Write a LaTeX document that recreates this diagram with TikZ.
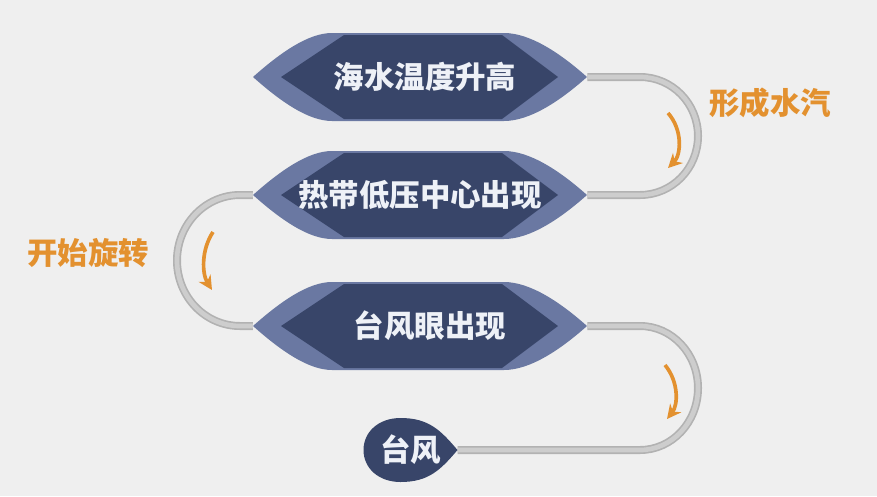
\documentclass[tikz,border=0pt]{standalone}
\usepackage{fontspec}
\setmainfont{Noto Sans CJK SC}
\usetikzlibrary{math}
\usetikzlibrary{arrows.meta}
\usetikzlibrary{backgrounds}
\definecolor{paper}{HTML}{EFEFEF}
\definecolor{lensrim}{HTML}{6A78A2}
\definecolor{lensnavy}{HTML}{384569}
\definecolor{pipeedge}{HTML}{B2B2B2}
\definecolor{pipecore}{HTML}{CDCDCD}
\definecolor{tangerine}{HTML}{E3912F}
\definecolor{snow}{HTML}{EEF1F7}

\tikzset{
  lens/.pic={
    \fill[lensrim]
      (-167,0) .. controls (-140,-24) and (-112,-44) .. (-88,-44) -- (84,-44)
      .. controls (110,-44) and (140,-24) .. (167,0)
      .. controls (140,24) and (110,44) .. (84,44) -- (-88,44)
      .. controls (-112,44) and (-140,24) .. (-167,0) -- cycle;
    \fill[lensnavy]
      (-139,0) -- (-76,-42) -- (82,-42) -- (138,0) -- (82,42) -- (-76,42) -- cycle;
  },
  dropshape/.pic={
    \fill[lensnavy]
      (47,0) .. controls (30,-20) and (18,-32) .. (-10,-32)
      .. controls (-32,-32) and (-47,-18) .. (-47,0)
      .. controls (-47,18) and (-32,32) .. (-10,32)
      .. controls (18,32) and (30,20) .. (47,0) -- cycle;
  },
  stage/.style={minimum width=10.02cm, minimum height=2.64cm, inner sep=0pt,
    text=snow, font=\fontsize{26pt}{30pt}\selectfont\bfseries},
  drop/.style={minimum width=2.82cm, minimum height=1.92cm, inner sep=0pt,
    text=snow, font=\fontsize{26pt}{30pt}\selectfont\bfseries},
  pipe/.style={draw=pipeedge, line width=0.24cm,
    postaction={draw=pipecore, line width=0.14cm}},
  turn/.style={draw=tangerine, line width=0.11cm,
    -{Stealth[length=0.42cm, width=0.42cm]}},
  note/.style={text=tangerine, font=\fontsize{26pt}{30pt}\selectfont\bfseries}
}

\begin{document}
\begin{tikzpicture}[x=0.03cm, y=-0.03cm]
\tikzmath{\cx = 420; \ya = 77; \yb = 195; \yc = 326; \yd = 450;
          \xr = 640; \xl = 240;}
\useasboundingbox (0,0) rectangle (877,496);

% the four stages
\pic at (\cx,\ya) {lens};
\pic at (\cx,\yb) {lens};
\pic at (\cx,\yc) {lens};
\pic at (410.5,\yd) {dropshape};
\node[stage] (s1) at (\cx,\ya) {\hspace*{0.3cm}海水温度升高};
\node[stage] (s2) at (\cx,\yb) {热带低压中心出现};
\node[stage] (s3) at (\cx,\yc) {\hspace*{0.6cm}台风眼出现};
\node[drop] (s4) at (410.5,\yd) {台风};

% labels
\node[note] (l1) at (770,103) {形成水汽};
\node[note] (l2) at (88,253) {开始旋转};

% pipes behind
\begin{scope}[on background layer]
  \fill[paper] (0,0) rectangle (877,496);
  \draw[pipe] (s1.east) -- (\xr,\ya)
    arc[start angle=-90, end angle=90, x radius=58, y radius=59] -- (s2.east);
  \draw[pipe] (s2.west) -- (\xl,\yb)
    arc[start angle=-90, end angle=-270, x radius=63, y radius=65.5] -- (s3.west);
  \draw[pipe] (s3.east) -- (\xr,\yc)
    arc[start angle=-90, end angle=90, x radius=58, y radius=62] -- (s4.east);
\end{scope}

% little arrows
\draw[turn] (668,113) .. controls (683,130) and (681,155) .. (668,168);
\draw[turn] (213,232) .. controls (201,250) and (202,274) .. (212,290);
\draw[turn] (665,365) .. controls (679,382) and (678,405) .. (667,419);
\end{tikzpicture}
\end{document}
